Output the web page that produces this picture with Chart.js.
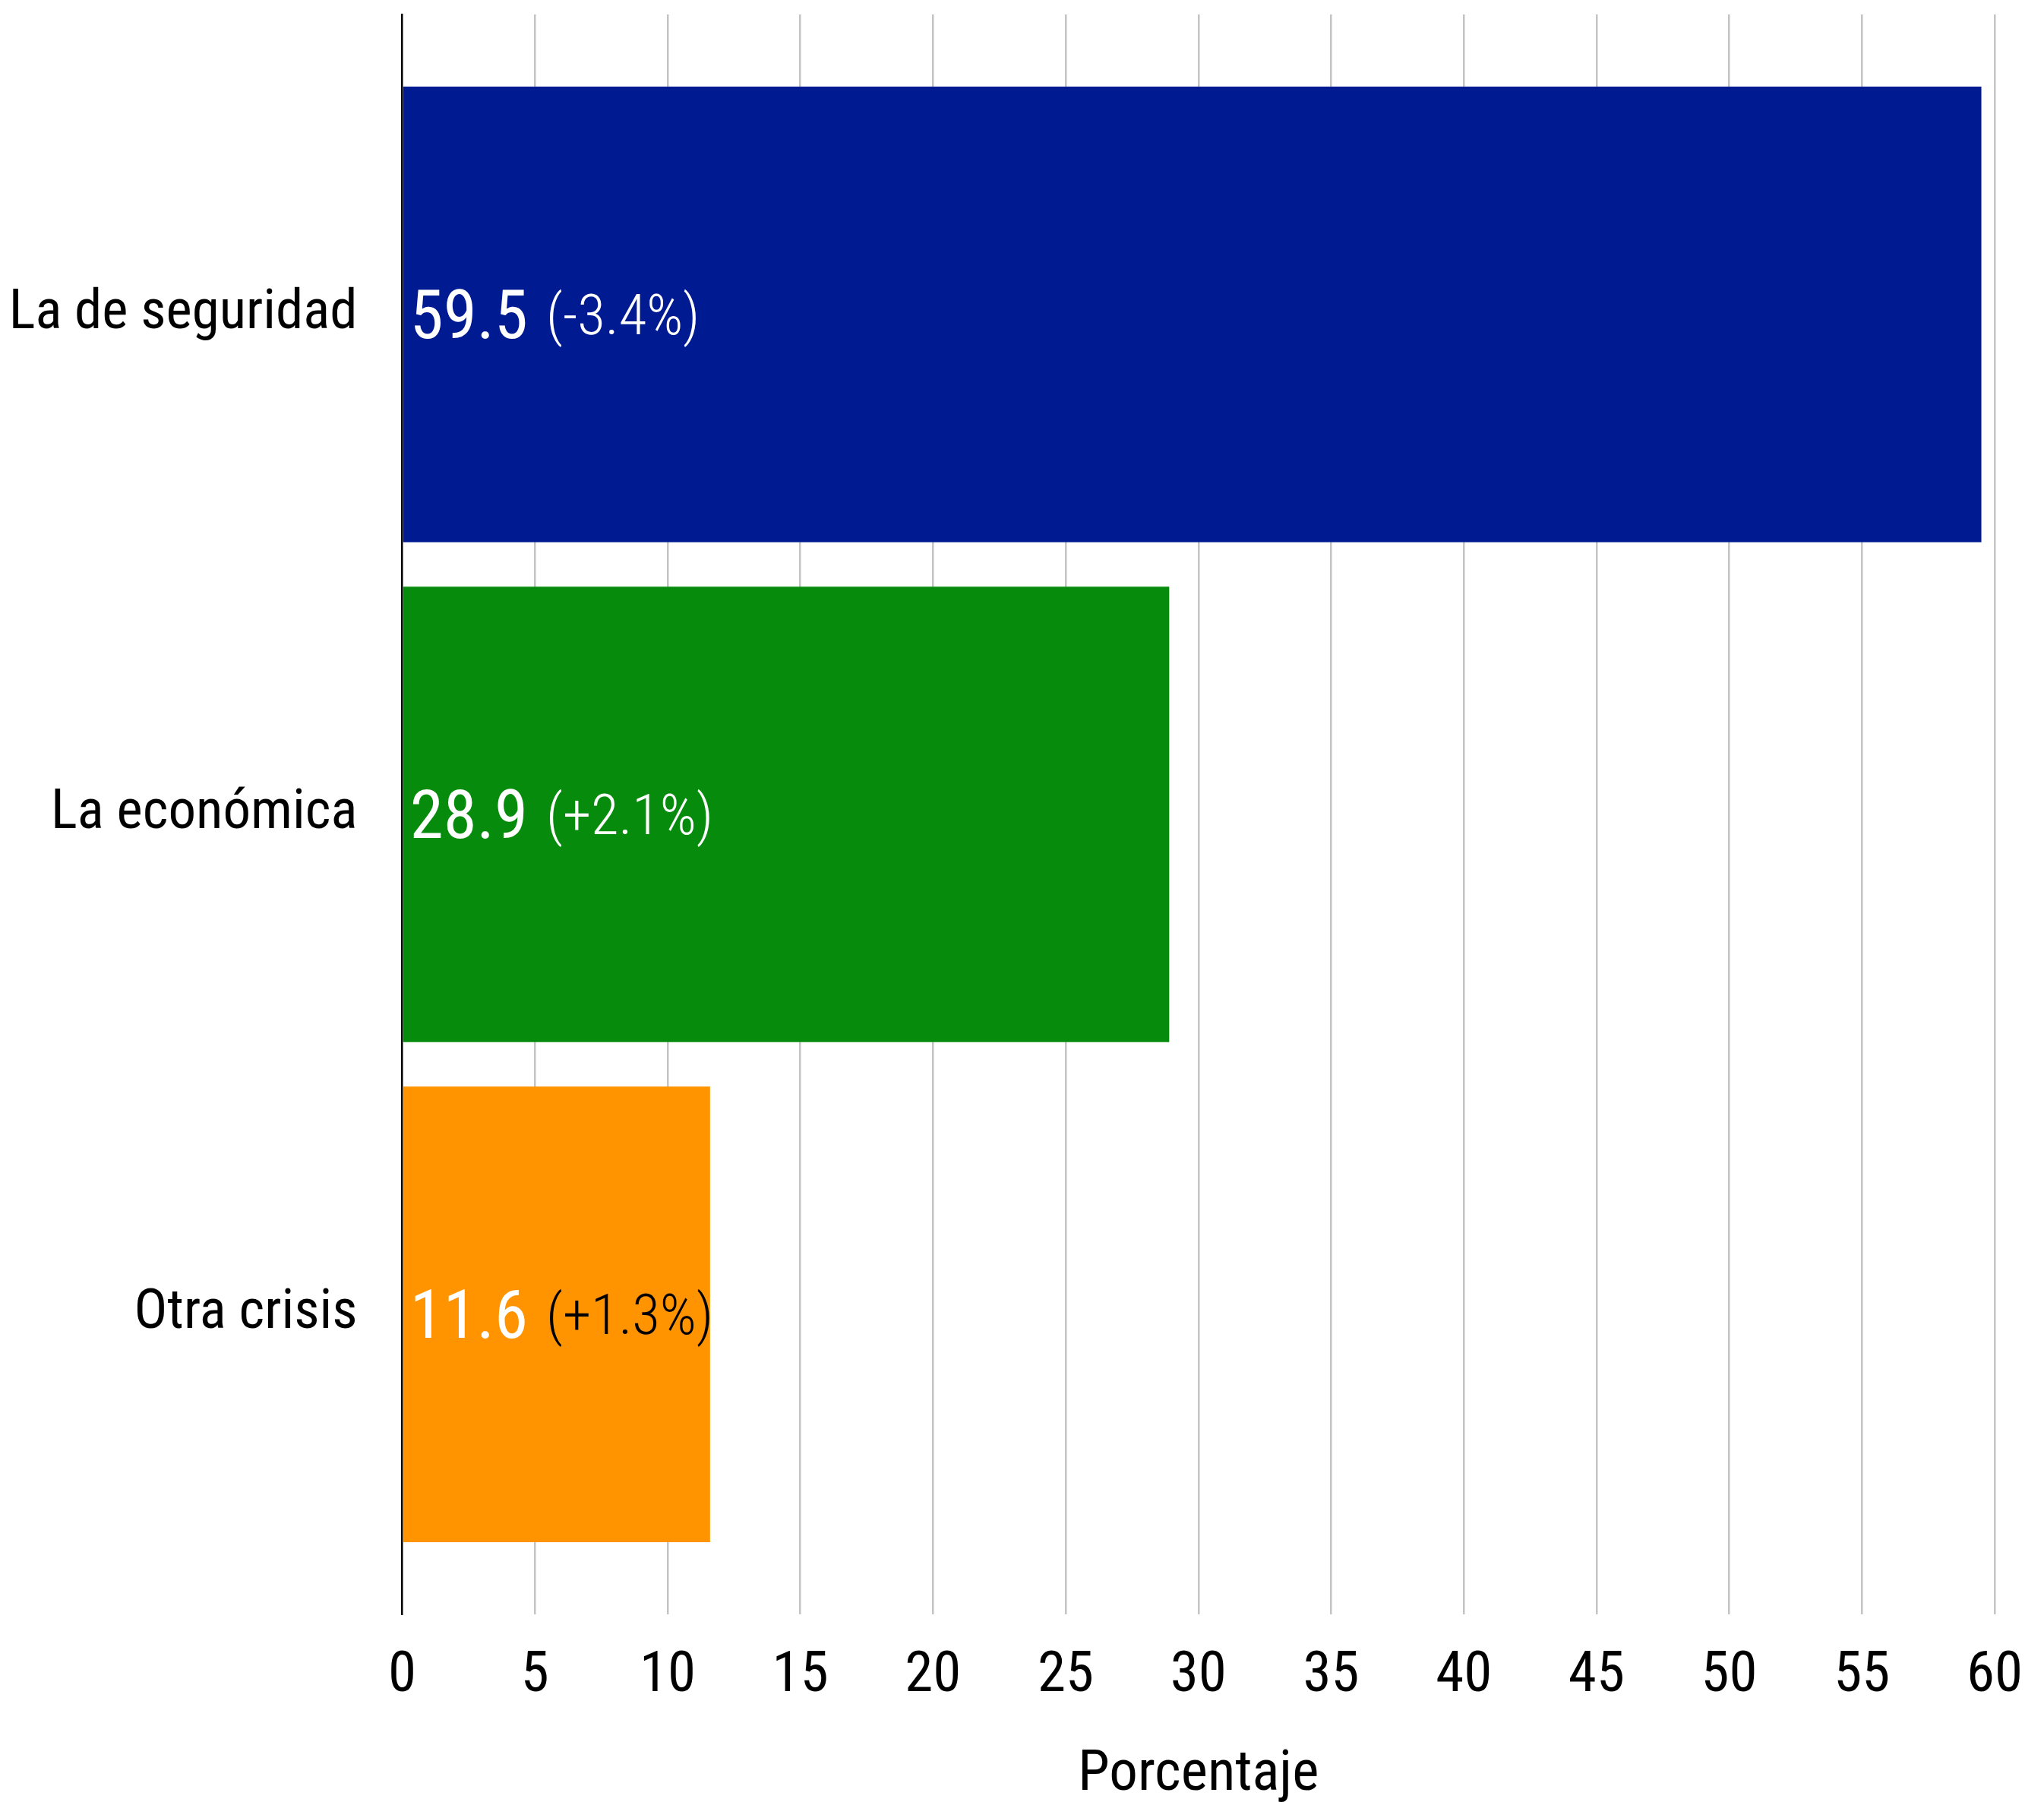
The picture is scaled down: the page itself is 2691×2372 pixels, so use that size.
<!DOCTYPE html>
<html>
<head>
<meta charset="utf-8">
<script src="https://cdn.jsdelivr.net/npm/chart.js@4.4.1/dist/chart.umd.min.js"></script>
<style>
  html, body { margin: 0; padding: 0; background: #ffffff; }
  #wrap { width: 2691px; height: 2372px; position: relative; }
</style>
</head>
<body>
<div id="wrap"><canvas id="crisis-chart"></canvas></div>
<script>
// Data
const categories = ['La de seguridad', 'La económica', 'Otra crisis'];
const values = [59.5, 28.9, 11.6];
const changes = ['(-3.4%)', '(+2.1%)', '(+1.3%)'];
const barColors = ['#001A91', '#068B0C', '#FF9300'];
const changeColors = ['#ffffff', '#ffffff', '#000000'];
const categoryIndex = [0, 1, 2];

const FONT = "'Roboto Condensed', 'Liberation Sans Narrow', 'DejaVu Sans Condensed', Roboto, sans-serif";

// Draws "59.5 (-3.4%)" style labels inside each bar
const barLabels = {
    id: 'barLabels',
    afterDatasetsDraw(chart) {
        const ctx = chart.ctx;
        const meta = chart.getDatasetMeta(0);
        ctx.save();
        meta.data.forEach((bar, i) => {
            const left = Math.min(bar.base, bar.x);
            const x = left + 9;

            ctx.font = '400 89px ' + FONT;
            ctx.fillStyle = '#ffffff';
            ctx.textAlign = 'left';
            ctx.textBaseline = 'alphabetic';
            const valText = values[i].toFixed(1);
            ctx.fillText(valText, x, bar.y + 31);
            const w = ctx.measureText(valText).width;

            ctx.font = '300 75px ' + FONT;
            ctx.fillStyle = changeColors[i];
            ctx.fillText(changes[i], x + w + 24, bar.y + 26);
        });
        ctx.restore();
    }
};

function drawChart() {
    const ctx = document.getElementById('crisis-chart');

    new Chart(ctx, {
        type: 'bar',
        data: {
            datasets: [{
                data: categoryIndex.map(i => ({ x: values[i], y: i })),
                backgroundColor: barColors,
                borderWidth: 0,
                categoryPercentage: 1,
                barPercentage: 0.911
            }]
        },
        options: {
            indexAxis: 'y',
            responsive: true,
            maintainAspectRatio: false,
            devicePixelRatio: 1,
            animation: false,
            layout: {
                padding: { top: 19, right: 65, bottom: 0, left: 0 }
            },
            scales: {
                x: {
                    type: 'linear',
                    position: 'bottom',
                    min: 0,
                    max: 60,
                    ticks: {
                        stepSize: 5,
                        padding: 37,
                        color: '#000000',
                        font: { family: FONT, size: 75 }
                    },
                    grid: {
                        drawTicks: false,
                        lineWidth: 2.5,
                        color: (c) => (c.tick && c.tick.value === 0) ? 'rgba(0,0,0,0)' : '#c4c4c4'
                    },
                    border: { display: false },
                    title: {
                        display: true,
                        text: 'Porcentaje',
                        color: '#000000',
                        padding: { top: 0, bottom: -10 },
                        font: { family: FONT, size: 75 }
                    },
                    afterFit: (scale) => {
                        scale.height = 247;
                        scale.paddingLeft = 0;
                        scale.paddingRight = 0;
                    }
                },
                y: {
                    type: 'linear',
                    reverse: true,
                    offset: false,
                    min: -0.6,
                    max: 2.6,
                    afterBuildTicks: (scale) => {
                        scale.ticks = categoryIndex.map(v => ({ value: v }));
                    },
                    ticks: {
                        padding: 59,
                        color: '#000000',
                        font: { family: FONT, size: 73 },
                        callback: (v) => categories[v]
                    },
                    grid: { display: false, drawTicks: false, offset: false },
                    border: { display: true, color: '#000000', width: 2.5 },
                    afterFit: (scale) => {
                        scale.width = 529.5;
                        scale.paddingTop = 0;
                        scale.paddingBottom = 0;
                    }
                }
            },
            plugins: {
                legend: { display: false },
                tooltip: { enabled: false }
            }
        },
        plugins: [barLabels]
    });
}

if (document.fonts && document.fonts.load) {
    Promise.all([
        document.fonts.load("400 75px 'Roboto Condensed'"),
        document.fonts.load("300 75px 'Roboto Condensed'")
    ]).then(drawChart, drawChart);
} else {
    drawChart();
}
</script>
</body>
</html>
